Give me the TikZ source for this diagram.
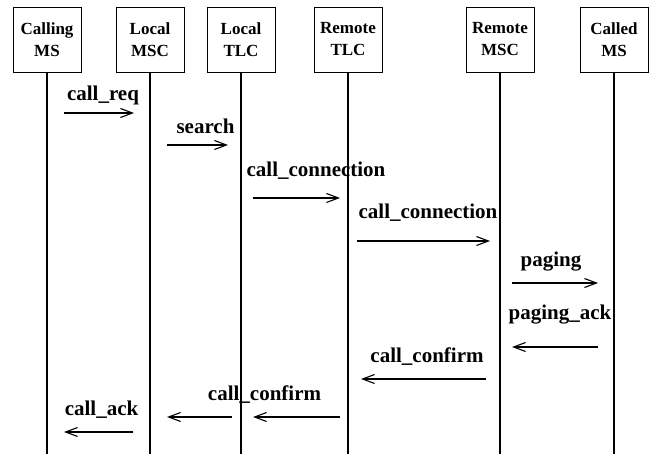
\documentclass[tikz,border=0pt]{standalone}
\usepackage{fontspec}
\setmainfont{Liberation Serif}
\usetikzlibrary{arrows.meta}

\begin{document}
\begin{tikzpicture}[x=1pt, y=-1pt,
    ent/.style={draw, thick, minimum width=68pt, minimum height=65pt, inner sep=0pt, align=center, font=\fontsize{17}{22}\selectfont\bfseries},
    life/.style={line width=1.6pt},
    msg/.style={line width=1.1pt, -{Straight Barb[length=12pt,width=9pt]}},
    lbl/.style={anchor=base, inner sep=0pt, font=\fontsize{21}{21}\selectfont\bfseries}]

    \useasboundingbox (0,0) rectangle (651,454);

    \node[ent] (a) at (47,39.5) {Calling\\MS};
    \node[ent] (b) at (150,39.5) {Local\\MSC};
    \node[ent] (c) at (241,39.5) {Local\\TLC};
    \node[ent] (d) at (348,39.5) {Remote\\TLC};
    \node[ent] (e) at (500,39.5) {Remote\\MSC};
    \node[ent] (f) at (614,39.5) {Called\\MS};

    \coordinate (a0) at (47,454); \coordinate (b0) at (150,454); \coordinate (c0) at (241,454);
    \coordinate (d0) at (348,454); \coordinate (e0) at (500,454); \coordinate (f0) at (614,454);

    \draw[life] (a) -- (a0);
    \draw[life] (b) -- (b0);
    \draw[life] (c) -- (c0);
    \draw[life] (d) -- (d0);
    \draw[life] (e) -- (e0);
    \draw[life] (f) -- (f0);

    \coordinate (s1) at (64,113);  \coordinate (t1) at (134,113);
    \coordinate (s2) at (167,145); \coordinate (t2) at (228,145);
    \coordinate (s3) at (253,198); \coordinate (t3) at (340,198);
    \coordinate (s4) at (357,241); \coordinate (t4) at (490,241);
    \coordinate (s5) at (512,283); \coordinate (t5) at (598,283);
    \coordinate (s6) at (598,347); \coordinate (t6) at (512,347);
    \coordinate (s7) at (486,379); \coordinate (t7) at (361,379);
    \coordinate (s8) at (340,417); \coordinate (t8) at (253,417);
    \coordinate (s9) at (232,417); \coordinate (t9) at (167,417);
    \coordinate (s10) at (133,432); \coordinate (t10) at (64,432);

    \draw[msg] (s1) -- (t1);
    \draw[msg] (s2) -- (t2);
    \draw[msg] (s3) -- (t3);
    \draw[msg] (s4) -- (t4);
    \draw[msg] (s5) -- (t5);
    \draw[msg] (s6) -- (t6);
    \draw[msg] (s7) -- (t7);
    \draw[msg] (s8) -- (t8);
    \draw[msg] (s9) -- (t9);
    \draw[msg] (s10) -- (t10);

    \node[lbl] (l1) at (103,101) {call\_req};
    \node[lbl] (l2) at (205.5,134) {search};
    \node[lbl] (l3) at (316,177) {call\_connection};
    \node[lbl] (l4) at (428,219) {call\_connection};
    \node[lbl] (l5) at (551,267) {paging};
    \node[lbl] (l6) at (560,320) {paging\_ack};
    \node[lbl] (l7) at (427,363) {call\_confirm};
    \node[lbl] (l8) at (264.5,401) {call\_confirm};
    \node[lbl] (l9) at (101.5,416) {call\_ack};

\end{tikzpicture}
\end{document}
